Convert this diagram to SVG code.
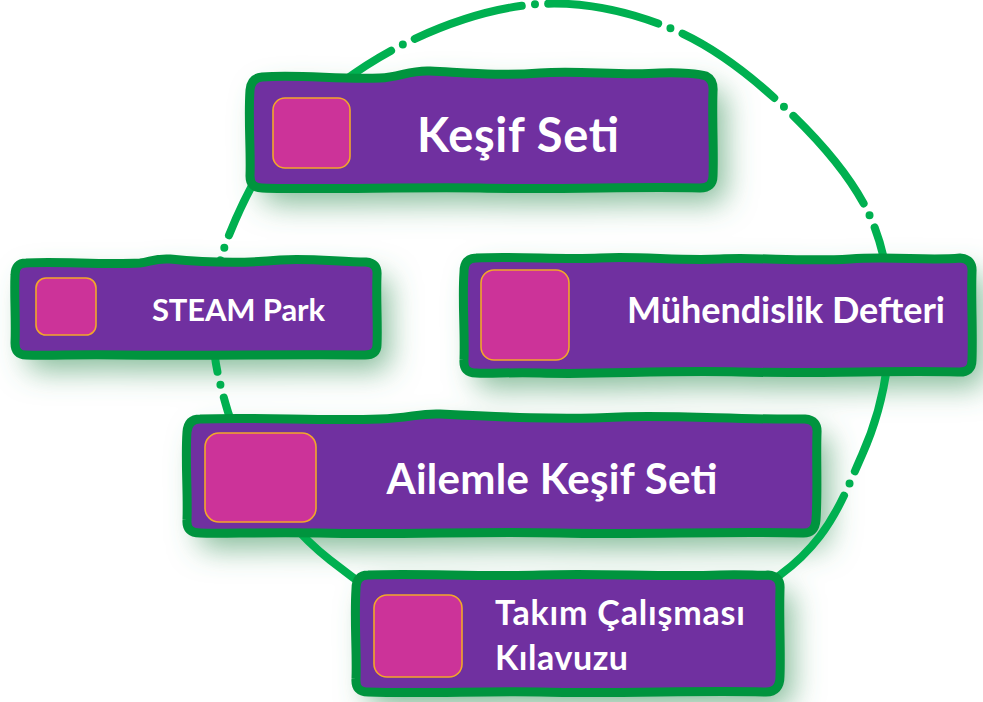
<svg xmlns="http://www.w3.org/2000/svg" width="983" height="702" viewBox="0 0 983 702">
<style>
.box{fill:#7030a0;stroke:#00943e;stroke-width:9;stroke-linejoin:round}
.sq{fill:#cc3399;stroke:#f2a72a;stroke-width:1.6}
.lbl{font-family:Lato,"Liberation Sans",sans-serif;font-weight:bold;fill:#ffffff}
.ring{fill:none;stroke:#00b050;stroke-width:8;stroke-linecap:round;stroke-dasharray:110 13 0 13;stroke-dashoffset:128}
</style>
<defs>
<filter id="sh" x="-20%" y="-40%" width="140%" height="190%">
<feFlood flood-color="#4f9e6c" flood-opacity="0.7" result="c"/>
<feGaussianBlur in="SourceAlpha" stdDeviation="15" result="b"/>
<feOffset in="b" dx="12" dy="15" result="o"/>
<feComposite in="c" in2="o" operator="in"/>
</filter>
<path id="b1" d="M 262,77 C 300,74 340,80 380,78 C 400,77 410,70 430,71 C 470,73 500,76 540,73 C 580,70 620,76 660,73 C 680,72 700,74 706,76 Q 714,80 713,92 C 712,120 714,150 713,176 Q 713,188 700,188 C 640,186 560,190 480,188 C 400,187 320,190 262,188 Q 250,188 250,176 C 251,150 248,120 250,90 Q 251,78 262,77 Z"/>
<path id="b2" d="M 26,263 C 60,261 100,265 140,263 C 150,262 155,258 170,259 C 200,262 240,264 280,260 C 310,258 340,262 366,262 Q 378,263 377,275 C 376,300 378,325 377,345 Q 377,355 365,355 C 300,354 200,356 120,355 C 80,354 50,356 26,355 Q 15,355 15,343 C 16,320 14,295 15,275 Q 15,263 26,263 Z"/>
<path id="b3" d="M 476,258 C 520,256 560,260 600,258 C 640,256 680,261 720,259 C 760,257 800,262 850,259 C 890,256 930,261 960,258 Q 973,259 972,272 C 971,300 973,330 972,360 Q 972,373 958,372 C 900,370 820,374 740,372 C 660,370 600,375 540,373 C 510,372 490,374 476,373 Q 463,373 464,360 C 465,330 462,300 464,272 Q 464,258 476,258 Z"/>
<path id="b4" d="M 200,419 C 260,417 320,421 380,419 C 410,418 420,413 440,414 C 500,417 560,420 620,417 C 680,415 740,420 805,419 Q 818,420 817,433 C 816,460 818,490 816,520 Q 815,534 802,533 C 720,531 640,535 560,533 C 480,531 400,535 320,533 C 260,532 220,534 200,533 Q 186,533 187,520 C 188,490 185,460 187,432 Q 188,419 200,419 Z"/>
<path id="b5" d="M 368,575 C 420,573 480,577 540,575 C 600,573 660,577 720,575 C 745,574 760,576 768,575 Q 781,576 780,589 C 779,620 781,650 780,676 Q 780,692 766,692 C 700,690 620,694 540,692 C 480,691 420,694 368,692 Q 355,692 356,679 C 357,650 354,620 356,589 Q 356,575 368,575 Z"/>
</defs>
<rect width="983" height="702" fill="#ffffff"/>
<g id="shadows" filter="url(#sh)">
<use href="#b1"/><use href="#b2"/><use href="#b3"/><use href="#b4"/><use href="#b5"/>
</g>
<g id="connectors">
<path class="ring" pathLength="2040" d="M 540,4 C 585,1.3 631.7,12.2 672,29 C 712.3,45.8 749.3,74.5 782,105 C 814.7,135.5 850,174.5 868,212 C 886,249.5 891,289.5 890,330 C 889,370.5 880.3,414.2 862,455 C 843.7,495.8 830.3,538.3 780,575 C 729.7,611.7 635,677.5 560,675 C 485,672.5 386.3,604.2 330,560 C 273.7,515.8 240,452 228,412 C 216,372 213,352 214,335 C 215,300 214,274.7 226,243 C 238,211.3 260.7,163 290,130 C 319.3,97 360.3,66 402,45 C 443.7,24 495,6.7 540,4 Z"/>
</g>
<g id="node-kesif-seti">
<use href="#b1" class="box"/>
<rect class="sq" x="273" y="98" width="77" height="70" rx="12"/>
<text class="lbl" x="518" y="152" font-size="47" text-anchor="middle" textLength="202">Keşif Seti</text>
</g>
<g id="node-steam-park">
<use href="#b2" class="box"/>
<rect class="sq" x="36" y="278" width="60" height="57" rx="10"/>
<text class="lbl" x="238.5" y="321" font-size="31" text-anchor="middle" textLength="173">STEAM Park</text>
</g>
<g id="node-muhendislik-defteri">
<use href="#b3" class="box"/>
<rect class="sq" x="481" y="270" width="88" height="90" rx="13"/>
<text class="lbl" x="786" y="323" font-size="36" text-anchor="middle" textLength="318">Mühendislik Defteri</text>
</g>
<g id="node-ailemle-kesif-seti">
<use href="#b4" class="box"/>
<rect class="sq" x="205" y="433" width="111" height="89" rx="14"/>
<text class="lbl" x="552" y="494" font-size="42" text-anchor="middle" textLength="331">Ailemle Keşif Seti</text>
</g>
<g id="node-takim-calismasi-kilavuzu">
<use href="#b5" class="box"/>
<rect class="sq" x="374" y="595" width="88" height="82" rx="13"/>
<text class="lbl" x="495" y="625" font-size="34" textLength="250">Takım Çalışması</text>
<text class="lbl" x="495" y="670" font-size="34" textLength="133">Kılavuzu</text>
</g>
</svg>
